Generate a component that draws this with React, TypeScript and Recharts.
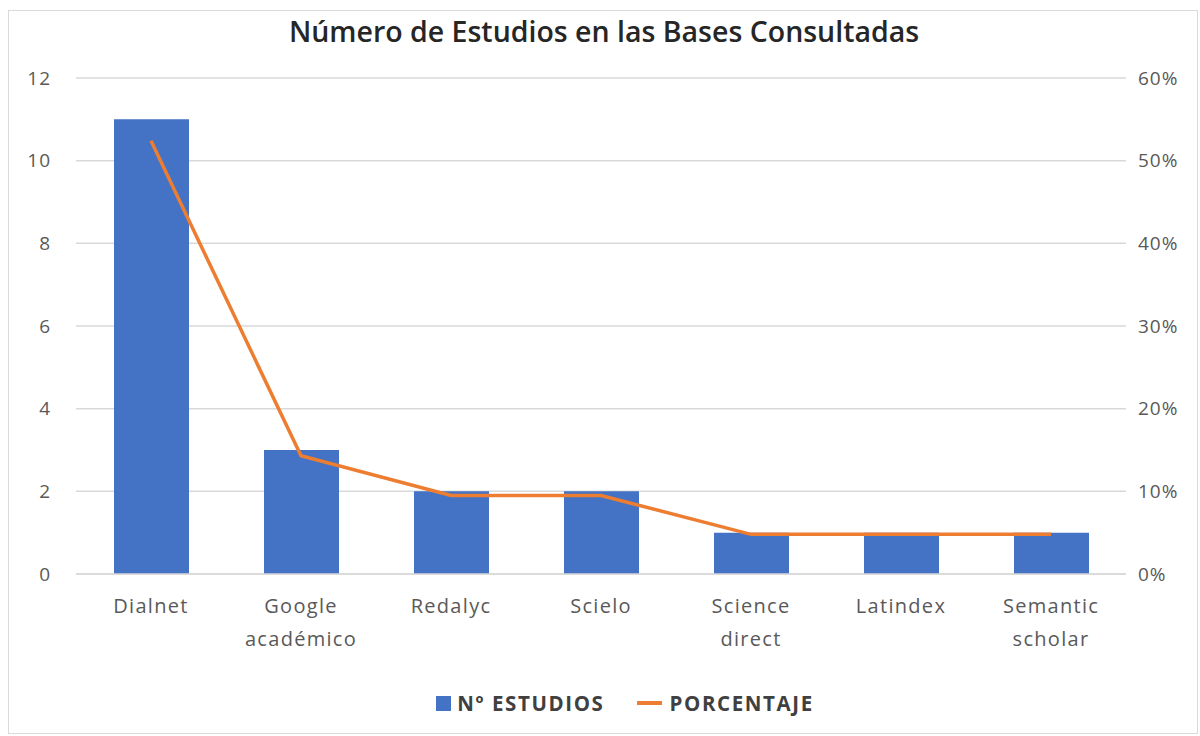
import {
  Bar,
  CartesianGrid,
  ComposedChart,
  Line,
  XAxis,
  YAxis,
} from "recharts";

const categories = [
  "Dialnet",
  "Google\nacadémico",
  "Redalyc",
  "Scielo",
  "Science\ndirect",
  "Latindex",
  "Semantic\nscholar",
];
const estudios = [11, 3, 2, 2, 1, 1, 1];
const porcentaje = [0.524, 0.143, 0.095, 0.095, 0.048, 0.048, 0.048];
const leftTicks = [0, 2, 4, 6, 8, 10, 12];
const rightTicks = [0, 0.1, 0.2, 0.3, 0.4, 0.5, 0.6];

const data = categories.map((name, i) => ({
  name,
  estudios: estudios[i],
  porcentaje: porcentaje[i],
}));

const FONT = "'Open Sans', 'DejaVu Sans', sans-serif";
const TICK_COLOR = "#595959";

const CategoryTick = (props: any) => {
  const { x, y, payload } = props;
  const lines = String(payload.value).split("\n");
  return (
    <text
      x={x}
      y={y}
      textAnchor="middle"
      fill={TICK_COLOR}
      fontSize={20}
      letterSpacing={1.3}
      fontFamily={FONT}
    >
      {lines.map((line, i) => (
        <tspan key={i} x={x} dy={i === 0 ? 31 : 33}>
          {line}
        </tspan>
      ))}
    </text>
  );
};

export default function App() {
  return (
    <div
      style={{
        position: "absolute",
        left: 0,
        top: 0,
        width: 1200,
        height: 736,
        background: "#ffffff",
      }}
    >
      <div
        style={{
          position: "absolute",
          left: 8,
          top: 10,
          width: 1190,
          height: 724,
          border: "1px solid #d9d9d9",
          boxSizing: "border-box",
        }}
      />
      <div
        style={{
          position: "absolute",
          left: 0,
          top: 12,
          width: 1208,
          textAlign: "center",
          fontFamily: FONT,
          fontWeight: 600,
          fontSize: 28.5,
          color: "#262626",
        }}
      >
        Número de Estudios en las Bases Consultadas
      </div>
      <ComposedChart
        width={1200}
        height={736}
        data={data}
        margin={{ top: 78, right: 0, bottom: 62, left: 0 }}
        style={{ position: "absolute", left: 0, top: 0 }}
      >
        <CartesianGrid vertical={false} stroke="#d9d9d9" strokeWidth={1.5} yAxisId="left" />
        <XAxis
          dataKey="name"
          interval={0}
          axisLine={{ stroke: "#d9d9d9", strokeWidth: 1.5 }}
          tickLine={false}
          tick={<CategoryTick />}
          height={100}
        />
        <YAxis
          yAxisId="left"
          domain={[0, 12]}
          ticks={leftTicks}
          width={76}
          axisLine={false}
          tickLine={false}
          tickSize={0}
          tickMargin={25}
          tick={{ fill: TICK_COLOR, fontSize: 19, fontFamily: FONT, letterSpacing: 1 }}
        />
        <YAxis
          yAxisId="right"
          orientation="right"
          domain={[0, 0.6]}
          ticks={rightTicks}
          width={74}
          axisLine={false}
          tickLine={false}
          tickSize={0}
          tickMargin={12}
          tickFormatter={(v: number) => `${Math.round(v * 100)}%`}
          tick={{ fill: TICK_COLOR, fontSize: 19, fontFamily: FONT, letterSpacing: 1 }}
        />
        <Bar
          yAxisId="left"
          dataKey="estudios"
          fill="#4472C4"
          barSize={75}
          isAnimationActive={false}
        />
        <Line
          yAxisId="right"
          dataKey="porcentaje"
          stroke="#ED7D31"
          strokeWidth={3.5}
          dot={false}
          activeDot={false}
          type="linear"
          isAnimationActive={false}
        />
      </ComposedChart>
      <div
        style={{
          position: "absolute",
          left: 0,
          top: 689,
          width: 1250,
          display: "flex",
          justifyContent: "center",
          alignItems: "center",
          gap: 32,
          fontFamily: FONT,
          fontWeight: 700,
          fontSize: 20.5,
          letterSpacing: 1.6,
          color: "#404040",
        }}
      >
        <span style={{ display: "flex", alignItems: "center", gap: 6 }}>
          <span style={{ width: 15, height: 15, background: "#4472C4", display: "inline-block" }} />
          Nº ESTUDIOS
        </span>
        <span style={{ display: "flex", alignItems: "center", gap: 8 }}>
          <span style={{ width: 25, height: 4, background: "#ED7D31", display: "inline-block" }} />
          PORCENTAJE
        </span>
      </div>
    </div>
  );
}
